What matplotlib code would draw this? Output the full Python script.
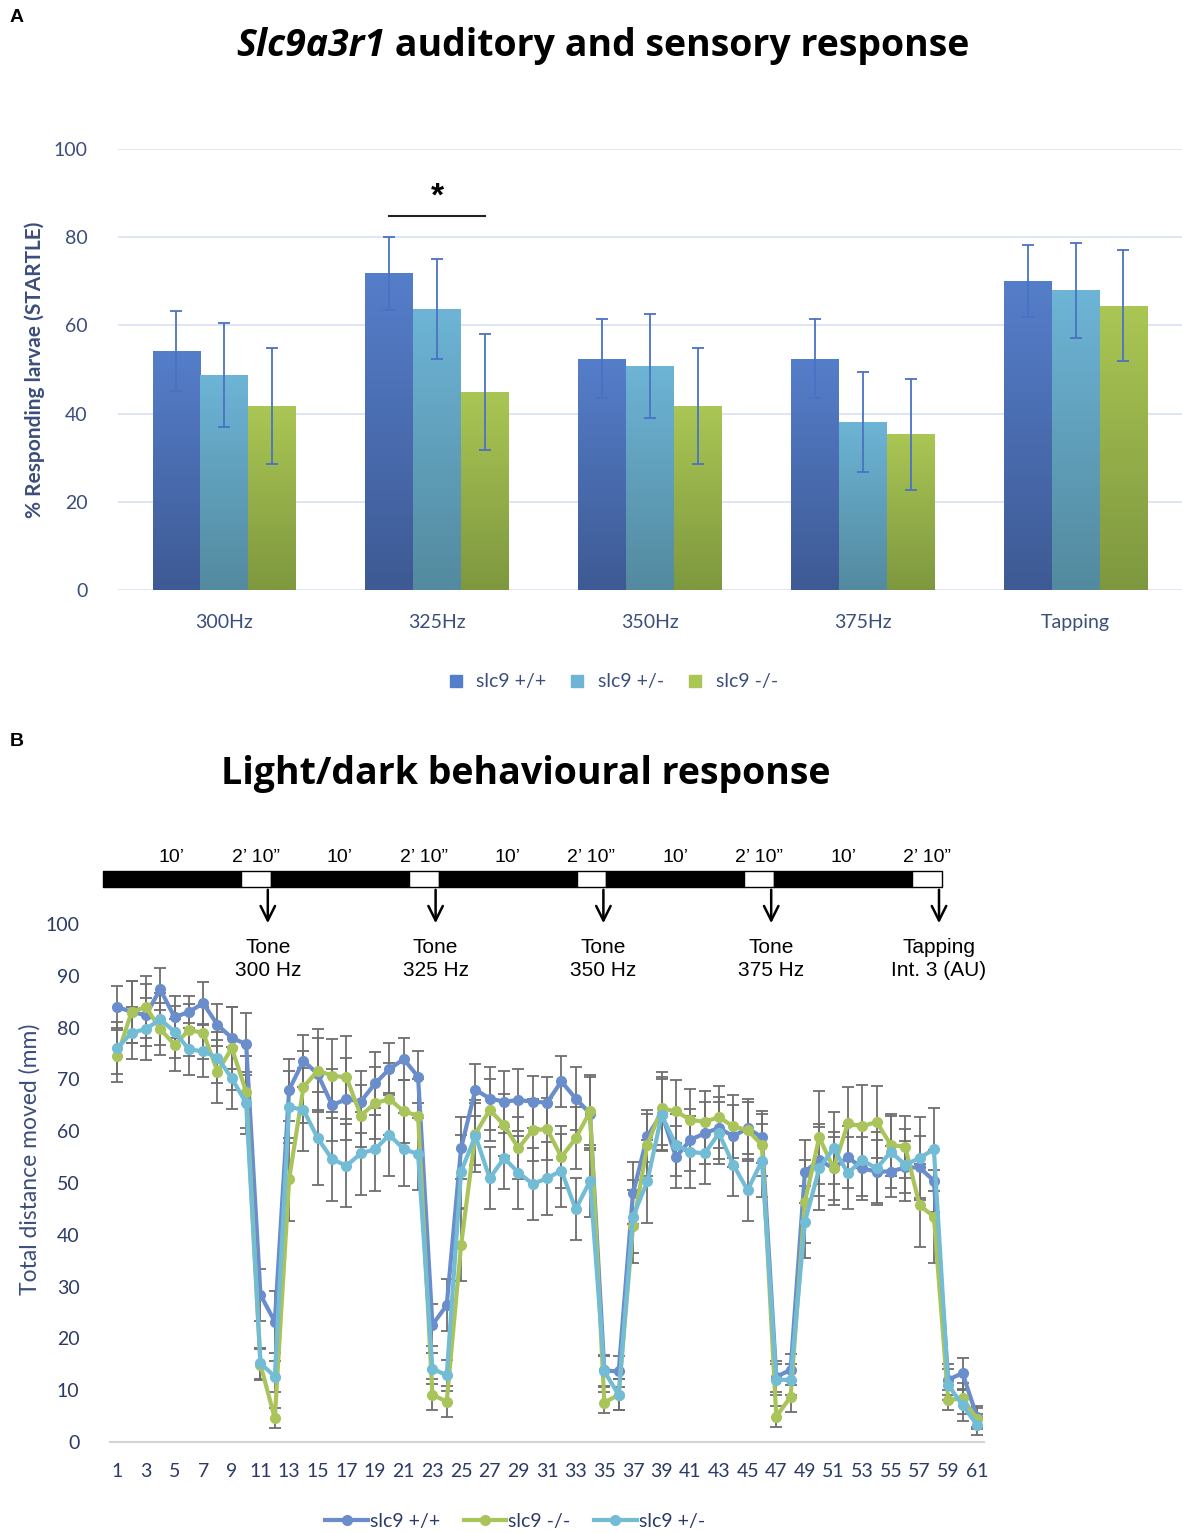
import numpy as np
import matplotlib
matplotlib.use('Agg')
import matplotlib.pyplot as plt
from matplotlib.colors import LinearSegmentedColormap
from matplotlib.lines import Line2D

plt.rcParams['font.family'] = ['Lato', 'DejaVu Sans']

# ---------------- panel A data ----------------
stimuli = ['300Hz', '325Hz', '350Hz', '375Hz', 'Tapping']
bar_labels = ['slc9 +/+', 'slc9 +/-', 'slc9 -/-']
wt = [54.2, 71.8, 52.5, 52.5, 70.1]
het = [48.8, 63.7, 50.9, 38.1, 68.0]
mut = [41.7, 44.9, 41.7, 35.3, 64.5]
wt_err = [9.1, 8.2, 9.0, 9.0, 8.2]
het_err = [11.8, 11.3, 11.8, 11.3, 10.8]
mut_err = [13.1, 13.1, 13.1, 12.6, 12.6]
sig_group = 1      # 325Hz, +/+ vs -/-
sig_level = 84.8

# ---------------- panel B data ----------------
bins = list(range(1, 62))
dist_wt = [84, 83, 82.4, 87.4, 82, 83, 84.7, 80.5, 78, 76.8, 28.4, 23.2,
           68, 73.6, 71, 65, 66.2, 65.7, 69.2, 72, 73.9, 70.5, 22.6, 26.4,
           56.7, 68, 66.3, 65.7, 66, 65.7, 65.5, 69.6, 66.3, 63.4, 13.8, 13.6,
           48, 59, 63.4, 55, 58.3, 59.6, 60.6, 59, 60.6, 58.8, 12.6, 13.9,
           52.2, 54.4, 52.8, 55, 52.8, 52.2, 52.2, 53, 53, 50.4, 12, 13.3, 4.9]
dist_mut = [74.5, 83, 84, 79.7, 76.7, 79.5, 79, 71.5, 76, 67.6, 14.9, 4.6,
            50.7, 68.5, 71.7, 70.7, 70.4, 63, 65.4, 66.2, 63.8, 63, 9.1, 7.8,
            38, 59.5, 64.1, 61.2, 56.7, 60.2, 60.4, 55, 58.6, 63.8, 7.6, 9.1,
            41.6, 57.3, 64.4, 63.8, 62.2, 61.8, 62.7, 60.9, 60.2, 57.3, 4.9, 8.7,
            46.4, 58.8, 52.8, 61.5, 60.9, 61.8, 57.3, 57, 45.7, 43.5, 8.1, 8.4, 4.5]
dist_het = [76, 79, 79.7, 81.6, 79.2, 75.8, 75.4, 74.2, 70.2, 65.4, 15.2, 12.6,
            64.7, 64.1, 58.6, 54.6, 53.3, 55.7, 56.5, 59.3, 56.5, 55.6, 14.1, 12.9,
            52.2, 59.1, 50.9, 54.8, 52, 49.8, 50.9, 52.4, 44.9, 50.4, 13.6, 9.1,
            43.5, 50.3, 63.1, 57.3, 56, 55.7, 59.6, 53.5, 48.6, 54.3, 12, 12,
            42.5, 52.8, 56.7, 51.9, 54.4, 52.8, 56, 53.5, 54.8, 56.5, 11, 7.1, 3.3]
err_wt = [4, 6, 6, 4, 4, 3, 4, 4, 6, 6, 5, 6,
          6, 5, 7, 7, 8, 6, 6, 5, 4, 5, 4, 5,
          6, 5, 6, 6, 6, 5, 5, 5, 6, 7, 3, 3,
          6, 5, 7, 6, 6, 6, 6, 6, 5, 5, 3, 3,
          6, 7, 6, 6, 6, 6, 5, 5, 6, 6, 3, 3, 2]
err_mut = [5, 6, 6, 5, 5, 5, 5, 6, 8, 7, 3, 2,
           8, 7, 8, 7, 8, 6, 7, 7, 6, 7, 3, 3,
           7, 6, 6, 6, 6, 6, 6, 6, 6, 7, 2, 3,
           7, 6, 7, 6, 6, 6, 6, 6, 6, 6, 2, 3,
           8, 9, 7, 7, 8, 7, 6, 6, 8, 9, 2, 3, 2]
err_het = [5, 5, 6, 5, 5, 5, 5, 5, 6, 6, 3, 3,
           7, 8, 9, 8, 8, 8, 8, 8, 7, 7, 3, 3,
           7, 7, 6, 6, 7, 7, 7, 7, 6, 7, 3, 3,
           7, 8, 7, 6, 7, 6, 6, 6, 6, 7, 3, 3,
           7, 8, 7, 7, 7, 7, 7, 7, 8, 8, 3, 3, 2]
line_labels = ['slc9 +/+', 'slc9 -/-', 'slc9 +/-']

# protocol timeline (seconds)
phase_len = [600, 130] * 5
phase_txt = ['10\u2019', '2\u2019 10\u201d'] * 5
stim_txt = ['Tone\n300 Hz', 'Tone\n325 Hz', 'Tone\n350 Hz', 'Tone\n375 Hz', 'Tapping\nInt. 3 (AU)']

navy = '#3B4E7C'
fig = plt.figure(figsize=(11.82, 15.33), dpi=100)

# ================= panel A =================
axA = fig.add_axes([0.0998, 0.6151, 0.9002, 0.2877])
x = np.arange(len(stimuli))
w = 0.225
grads = [('#3E5A94', '#557ECA'), ('#538A9F', '#6DB4D6'), ('#7E983F', '#AAC654')]
for k, (vals, errs) in enumerate([(wt, wt_err), (het, het_err), (mut, mut_err)]):
    pos = x + (k - 1) * w
    bars = axA.bar(pos, vals, w, color='none', zorder=2)
    cm = LinearSegmentedColormap.from_list('g%d' % k, grads[k])
    for b in bars:
        im = axA.imshow(np.linspace(0, 1, 100).reshape(-1, 1), origin='lower', aspect='auto', cmap=cm,
                        extent=[b.get_x(), b.get_x() + b.get_width(), 0, b.get_height()], zorder=2)
        im.set_clip_path(b)
    axA.errorbar(pos, vals, yerr=errs, fmt='none', ecolor='#4A72C4', elinewidth=1.3, capsize=4, capthick=1.3, zorder=3)

# significance bracket
axA.plot([sig_group - w, sig_group + w], [sig_level, sig_level], color='#222222', lw=1.5)
axA.text(sig_group, sig_level + 0.8, '*', ha='center', va='bottom', fontsize=24, fontweight='bold',
         family='Liberation Sans')

axA.set_xlim(-0.5, 4.5)
axA.set_ylim(0, 100)
axA.set_yticks(range(0, 101, 20))
axA.set_xticks(x)
axA.set_xticklabels(stimuli)
axA.yaxis.grid(True, color='#DCE4F2', lw=1.3)
axA.set_axisbelow(True)
for s in axA.spines.values():
    s.set_visible(False)
axA.tick_params(length=0, labelsize=14, labelcolor=navy)
axA.tick_params(axis='x', pad=17)
axA.tick_params(axis='y', pad=22)
axA.set_ylabel('% Responding larvae (STARTLE)', fontsize=15, fontweight='bold', color=navy, labelpad=6)

hA = [Line2D([], [], marker='s', ls='none', color=grads[k][1], markersize=9) for k in range(3)]
fig.legend(hA, bar_labels, loc='center', bbox_to_anchor=(607 / 1182, 1 - 682 / 1533), ncol=3, frameon=False,
           fontsize=14, handletextpad=0.05, columnspacing=0.6, labelcolor=navy)

# titles / panel letters
t1 = fig.text(236 / 1182, 1 - 46 / 1533, 'Slc9a3r1', fontsize=27, fontweight='bold', style='italic',
              family='Open Sans', va='center', ha='left')
axA.annotate(' auditory and sensory response', xy=(1, 0), xycoords=t1, va='bottom', ha='left',
             fontsize=27, fontweight='bold', family='Open Sans', annotation_clip=False)
fig.text(526 / 1182, 1 - 774 / 1533, 'Light/dark behavioural response', fontsize=27, fontweight='bold',
         family='Open Sans', ha='center', va='center')
fig.text(10 / 1182, 1 - 18 / 1533, 'A', fontsize=14, fontweight='bold', family='Liberation Sans', va='center')
fig.text(10 / 1182, 1 - 742 / 1533, 'B', fontsize=14, fontweight='bold', family='Liberation Sans', va='center')

# ================= panel B =================
axB = fig.add_axes([0.0931, 0.0594, 0.7394, 0.3379])
cols = ['#6A8DCB', '#AAC45C', '#72BCD6']
series = [(dist_wt, err_wt), (dist_mut, err_mut), (dist_het, err_het)]
for k, (vals, errs) in enumerate(series):
    axB.errorbar(bins, vals, yerr=errs, fmt='none', ecolor='#6E6E6E', elinewidth=1.3, capsize=4,
                 capthick=1.3, zorder=1)
for k, (vals, errs) in enumerate(series):
    axB.plot(bins, vals, color=cols[k], lw=3, marker='o', markersize=7, zorder=2 + k, label=line_labels[k])

axB.set_xlim(0.5, 61.5)
axB.set_ylim(0, 100)
axB.set_yticks(range(0, 101, 10))
axB.set_xticks(bins[::2])
for s in ['top', 'right', 'left']:
    axB.spines[s].set_visible(False)
axB.spines['bottom'].set_color('#D4D4D4')
axB.spines['bottom'].set_linewidth(1.5)
axB.tick_params(length=0, labelsize=14, labelcolor='#2B3A66')
axB.tick_params(axis='x', pad=15)
axB.tick_params(axis='y', pad=22)
axB.set_ylabel('Total distance moved (mm)', fontsize=16.5, color=navy)
axB.yaxis.set_label_coords(-0.08, 0.545)
fig.legend(*axB.get_legend_handles_labels(), loc='center', bbox_to_anchor=(515 / 1182, 1 - 1521 / 1533),
           ncol=3, frameon=False, fontsize=14, handlelength=2.2, handletextpad=0.1, columnspacing=1.2,
           labelcolor='#2B3A66')

# protocol timeline drawn in pixel space
ov = fig.add_axes([0, 0, 1, 1])
ov.set_xlim(0, 1182)
ov.set_ylim(1533, 0)
ov.axis('off')
x0, x1 = 103, 942
scale = (x1 - x0) / sum(phase_len)
starts = np.concatenate([[0], np.cumsum(phase_len)[:-1]])
segs = [(x0 + s * scale, d * scale) for s, d in zip(starts, phase_len)]
fc = ['black' if i % 2 == 0 else 'white' for i in range(len(segs))]
ov.broken_barh(segs, (871, 16), facecolors=fc, edgecolor='black', lw=1)
for (sx, sw), txt in zip(segs, phase_txt):
    ov.text(sx + sw / 2, 858, txt, ha='center', va='center', fontsize=14, family='Liberation Sans')
for i, txt in enumerate(stim_txt):
    sx, sw = segs[2 * i + 1]
    xa = sx + sw - 3
    ov.annotate('', xy=(xa, 926), xytext=(xa, 887),
                arrowprops=dict(arrowstyle='->', lw=1.8, color='black', mutation_scale=26))
    ov.text(xa, 938, txt, ha='center', va='top', fontsize=15, family='Liberation Sans', linespacing=1.25)

fig.savefig('out.png', dpi=100)
